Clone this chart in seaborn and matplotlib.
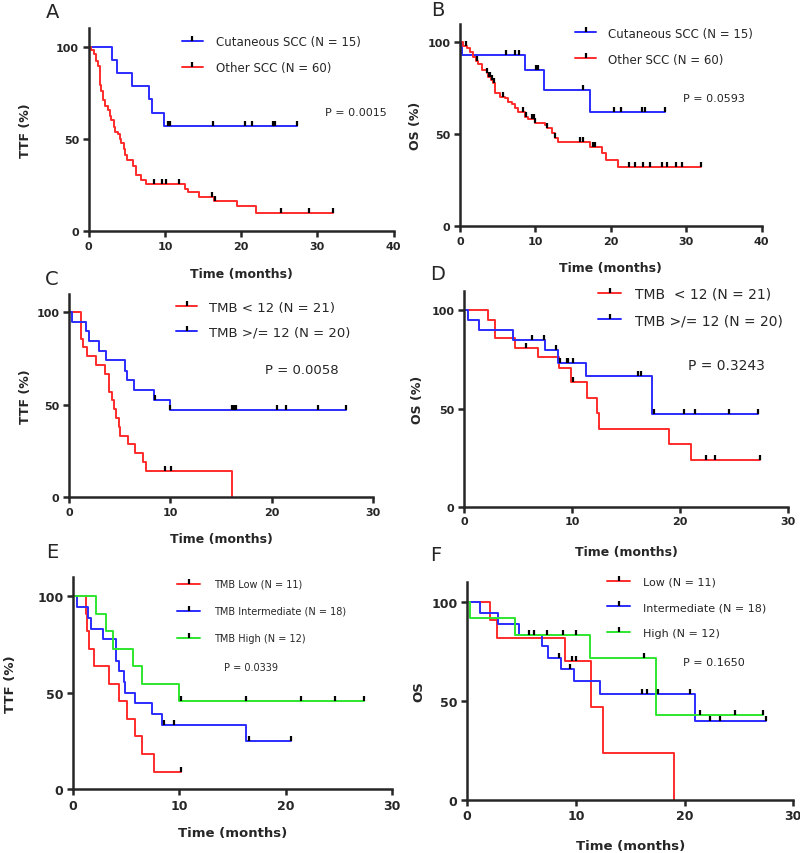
import numpy as np
import pandas as pd
import seaborn as sns
import matplotlib.pyplot as plt
from matplotlib.lines import Line2D
from matplotlib.path import Path

# ---- A: TTF, cutaneous vs other SCC ----
A_cut_t = [0, 3.06, 3.67, 5.64, 7.96, 8.3, 9.9, 27.3]
A_cut_s = [100, 92.9, 85.7, 78.6, 71.4, 64.3, 57.1, 57.1]
A_cut_c = [10.4, 10.6, 16.3, 20.5, 21.4, 24.2, 24.5, 27.3]
A_oth_t = [0, 0.35, 0.66, 1.0, 1.22, 1.44, 1.66, 1.88, 2.19, 2.54, 2.75, 2.97, 3.28, 3.5, 3.85,
           4.06, 4.28, 4.63, 4.8, 5.07, 5.8, 6.25, 6.9, 7.56, 12.6, 13.0, 14.4, 16.4, 19.4, 21.9, 32.1]
A_oth_s = [100, 98, 96, 92.5, 89.5, 79, 76, 71, 68, 65.5, 62.5, 60, 56.5, 53.5, 52.5,
           50, 47.5, 44.5, 41, 38.5, 35.5, 30.5, 27.5, 25.5, 23, 21, 18.5, 16.5, 13.5, 9.7, 9.7]
A_oth_c = [8.5, 9.6, 10.1, 11.8, 16.2, 16.5, 25.2, 28.9, 32.1]

# ---- B: OS, cutaneous vs other SCC ----
B_cut_t = [0, 0.3, 8.6, 11.1, 17.3, 27.2]
B_cut_s = [100, 93.3, 84.8, 74.2, 61.9, 61.9]
B_cut_c = [6.1, 7.3, 7.8, 10.1, 10.4, 16.3, 20.4, 21.3, 24.2, 24.5, 27.2]
B_oth_t = [0, 0.44, 0.88, 1.33, 1.77, 2.08, 2.43, 2.87, 3.54, 3.76, 4.1, 4.4, 4.7, 5.3, 5.97, 6.4,
           6.85, 7.3, 7.7, 8.6, 9.06, 9.9, 11.3, 11.5, 12.2, 12.6, 13.0, 17.2, 18.8, 19.4, 21.0, 32.0]
B_oth_s = [100, 97.8, 96.9, 95, 92.3, 89.6, 88.2, 85, 83.2, 81.4, 79.6, 77.8, 72.3, 70.5, 69.6, 67.8,
           66.3, 64.5, 62.3, 59.6, 58.3, 55.9, 55, 53.2, 50.5, 47.7, 45.5, 43.2, 39.5, 35.9, 32.2, 32.2]
B_oth_c = [0.75, 2.3, 3.6, 3.8, 4.0, 4.2, 4.5, 5.7, 8.4, 8.75, 9.6, 9.8, 10.0, 11.6, 12.6, 15.9, 16.3,
           17.6, 17.9, 22.4, 23.2, 24.3, 25.2, 26.8, 27.4, 28.7, 29.5, 32.0]

# ---- C: TTF by TMB 12 ----
C_low_t = [0, 1.22, 1.38, 1.78, 2.7, 3.5, 3.95, 4.28, 4.44, 4.67, 4.9, 5.07, 5.8, 6.5, 7.3, 7.57, 16.1]
C_low_s = [100, 85.7, 81.0, 76.2, 71.4, 66.7, 57.1, 52.4, 47.6, 42.9, 38.1, 33.3, 28.6, 23.8, 19.0, 14.3, 0]
C_low_c = [9.5, 10.1]
C_high_t = [0, 0.33, 1.7, 2.0, 2.96, 3.6, 5.5, 5.75, 6.38, 8.36, 10.0, 27.3]
C_high_s = [100, 95, 90, 84.5, 79, 74, 68.5, 63.2, 58, 52.7, 47.1, 47.1]
C_high_c = [8.45, 10.0, 16.1, 16.2, 16.3, 16.5, 20.5, 21.4, 24.6, 27.3]

# ---- D: OS by TMB 12 ----
D_low_t = [0, 2.25, 2.87, 4.72, 6.88, 8.8, 9.9, 11.4, 12.27, 12.5, 19.0, 21.06, 27.4]
D_low_s = [100, 95.2, 85.7, 80.9, 76.1, 70.6, 63.5, 55.6, 47.6, 39.7, 31.7, 23.8, 23.8]
D_low_c = [5.7, 10.1, 22.4, 23.2, 27.4]
D_high_t = [0, 0.34, 1.39, 4.5, 7.5, 8.73, 11.3, 17.45, 27.2]
D_high_s = [100, 95, 90, 85.1, 79.8, 73, 66.4, 47.4, 47.4]
D_high_c = [6.26, 7.4, 8.5, 8.9, 9.5, 9.65, 10.05, 16.1, 16.4, 17.6, 20.4, 21.4, 24.5, 27.2]

# ---- E: TTF by TMB tertile ----
E_low_t = [0, 1.2, 1.35, 1.5, 1.95, 3.4, 4.28, 5.05, 5.8, 6.44, 7.6, 10.15]
E_low_s = [100, 90.9, 81.8, 72.7, 63.6, 54.5, 45.5, 36.4, 27.3, 18.2, 9.1, 9.1]
E_low_c = [10.15]
E_mid_t = [0, 0.38, 1.45, 1.7, 2.8, 4.05, 4.33, 4.75, 4.85, 5.85, 7.4, 8.4, 16.24, 20.5]
E_mid_s = [100, 94.4, 88.9, 83.3, 77.8, 66.7, 61.1, 55.6, 50, 44.4, 38.9, 33.3, 25, 25]
E_mid_c = [8.55, 9.5, 16.5, 20.5]
E_high_t = [0, 2.2, 3.1, 3.74, 5.62, 6.5, 10.0, 27.3]
E_high_s = [100, 90.9, 81.8, 72.7, 63.6, 54.5, 45.5, 45.5]
E_high_c = [10.1, 16.3, 21.4, 24.6, 27.3]

# ---- F: OS by TMB tertile ----
F_low_t = [0, 2.1, 2.75, 8.96, 11.4, 12.46, 19.04]
F_low_s = [100, 90.9, 81.8, 70.1, 46.8, 23.4, 0]
F_low_c = [9.6, 10.0]
F_mid_t = [0, 1.22, 2.85, 4.74, 6.89, 7.4, 8.66, 9.86, 12.18, 20.97, 27.5]
F_mid_s = [100, 94.4, 88.9, 83.3, 77.5, 71.8, 66.2, 59.8, 53.2, 39.9, 39.9]
F_mid_c = [5.72, 6.18, 8.45, 9.43, 16.07, 16.5, 17.6, 20.5, 22.3, 23.3, 27.5]
F_high_t = [0, 0.22, 4.44, 11.26, 17.39, 27.24]
F_high_s = [100, 91.7, 83.3, 71.4, 42.9, 42.9]
F_high_c = [7.35, 8.8, 10.04, 16.3, 21.4, 24.6, 27.24]

RED, BLUE, GREEN = '#ff2b2b', '#2b2bff', '#2ee62e'
TICK = Path([(0, 0), (0, 1)])  # censor mark sitting on top of the line

sns.set_style('ticks')
plt.rcParams['font.family'] = ['DejaVu Sans']

fig = plt.figure(figsize=(8, 8.54), dpi=100)


def surv_at(t, s, c):
    idx = np.searchsorted(t, c, side='right') - 1
    return np.asarray(s)[idx]


def km_panel(rect, curves, xmax, ylabel, tfs, lfs, leg):
    ax = fig.add_axes(rect)
    df = pd.concat([pd.DataFrame({'time': t, 'surv': s, 'group': name})
                    for name, t, s, c, col in curves], ignore_index=True)
    pal = {name: col for name, t, s, c, col in curves}
    sns.lineplot(data=df, x='time', y='surv', hue='group', palette=pal,
                 drawstyle='steps-post', estimator=None, sort=False,
                 linewidth=1.4, legend=False, ax=ax)
    for name, t, s, c, col in curves:
        ax.plot(c, surv_at(t, s, c), ls='none', marker=TICK, ms=7, mew=1.6,
                mec='k', clip_on=False)

    ax.set_xlim(0, xmax)
    ax.set_ylim(0, 110)
    ax.set_xticks(range(0, xmax + 1, 10))
    ax.set_yticks([0, 50, 100])
    sns.despine(ax=ax)
    for sp in ['left', 'bottom']:
        ax.spines[sp].set_linewidth(1.8)
    ax.tick_params(width=1.8, length=4, labelsize=tfs, pad=3)
    for lb in ax.get_xticklabels() + ax.get_yticklabels():
        lb.set_fontweight('bold')
    ax.set_xlabel('Time (months)', fontsize=lfs, fontweight='bold')
    ax.set_ylabel(ylabel, fontsize=lfs, fontweight='bold')
    ax.xaxis.set_label_coords(0.5, leg['xlab_y'])
    ax.yaxis.set_label_coords(leg['ylab_x'], 0.5)

    handles = [Line2D([], [], color=col, lw=1.4, marker=TICK, ms=7, mew=1.6, mec='k')
               for name, t, s, c, col in curves]
    ax.legend(handles, [name for name, *_ in curves], loc='center left',
              bbox_to_anchor=leg['xy'], frameon=False, fontsize=leg['fs'],
              handlelength=leg['hl'], handletextpad=leg['hp'],
              labelspacing=leg['ls'], borderpad=0, borderaxespad=0, numpoints=1)
    ax.text(leg['p_xy'][0], leg['p_xy'][1], leg['p'], transform=ax.transAxes,
            fontsize=leg['pfs'], ha='left', va='center')
    return ax


km_panel([0.111, 0.7283, 0.381, 0.2374],
         [('Cutaneous SCC (N = 15)', A_cut_t, A_cut_s, A_cut_c, BLUE),
          ('Other SCC (N = 60)', A_oth_t, A_oth_s, A_oth_c, RED)],
         40, 'TTF (%)', 8, 9,
         dict(xy=(0.305, 0.871), fs=8.5, hl=1.8, hp=1.1, ls=1.1,
              p='P = 0.0015', p_xy=(0.774, 0.587), pfs=8, xlab_y=-0.178, ylab_x=-0.187))

km_panel([0.575, 0.7342, 0.377, 0.2365],
         [('Cutaneous SCC (N = 15)', B_cut_t, B_cut_s, B_cut_c, BLUE),
          ('Other SCC (N = 60)', B_oth_t, B_oth_s, B_oth_c, RED)],
         40, 'OS (%)', 8, 9,
         dict(xy=(0.381, 0.891), fs=8.5, hl=1.8, hp=1.0, ls=1.1,
              p='P = 0.0593', p_xy=(0.739, 0.634), pfs=8, xlab_y=-0.173, ylab_x=-0.126))

km_panel([0.0863, 0.4169, 0.38, 0.2377],
         [('TMB < 12 (N = 21)', C_low_t, C_low_s, C_low_c, RED),
          ('TMB >/= 12 (N = 20)', C_high_t, C_high_s, C_high_c, BLUE)],
         30, 'TTF (%)', 8, 9,
         dict(xy=(0.352, 0.874), fs=9.5, hl=1.6, hp=0.9, ls=0.85,
              p='P = 0.0058', p_xy=(0.645, 0.626), pfs=9.5, xlab_y=-0.172, ylab_x=-0.122))

km_panel([0.58, 0.4055, 0.405, 0.2529],
         [('TMB  < 12 (N = 21)', D_low_t, D_low_s, D_low_c, RED),
          ('TMB >/= 12 (N = 20)', D_high_t, D_high_s, D_high_c, BLUE)],
         30, 'OS (%)', 8, 9,
         dict(xy=(0.414, 0.925), fs=10, hl=1.67, hp=1.0, ls=0.9,
              p='P = 0.3243', p_xy=(0.691, 0.656), pfs=10, xlab_y=-0.177, ylab_x=-0.123))

km_panel([0.0913, 0.0749, 0.399, 0.2482],
         [('TMB Low (N = 11)', E_low_t, E_low_s, E_low_c, RED),
          ('TMB Intermediate (N = 18)', E_mid_t, E_mid_s, E_mid_c, BLUE),
          ('TMB High (N = 12)', E_high_t, E_high_s, E_high_c, GREEN)],
         30, 'TTF (%)', 9, 9.5,
         dict(xy=(0.326, 0.84), fs=7, hl=2.4, hp=1.35, ls=1.75,
              p='P = 0.0339', p_xy=(0.473, 0.575), pfs=7, xlab_y=-0.175, ylab_x=-0.176))

km_panel([0.584, 0.0624, 0.4075, 0.2549],
         [('Low (N = 11)', F_low_t, F_low_s, F_low_c, RED),
          ('Intermediate (N = 18)', F_mid_t, F_mid_s, F_mid_c, BLUE),
          ('High (N = 12)', F_high_t, F_high_s, F_high_c, GREEN)],
         30, 'OS', 9, 9.5,
         dict(xy=(0.429, 0.885), fs=8, hl=2.07, hp=1.17, ls=1.4,
              p='P = 0.1650', p_xy=(0.663, 0.633), pfs=8, xlab_y=-0.18, ylab_x=-0.129))

# panel letters (pixel positions converted to figure fractions)
for letter, px, py in [('A', 53, 12), ('B', 438, 10), ('C', 52, 280),
                       ('D', 438, 275), ('E', 52, 553), ('F', 436, 556)]:
    fig.text(px / 800, 1 - py / 854, letter, fontsize=14, ha='center', va='center')

fig.savefig('out.png', dpi=100)
